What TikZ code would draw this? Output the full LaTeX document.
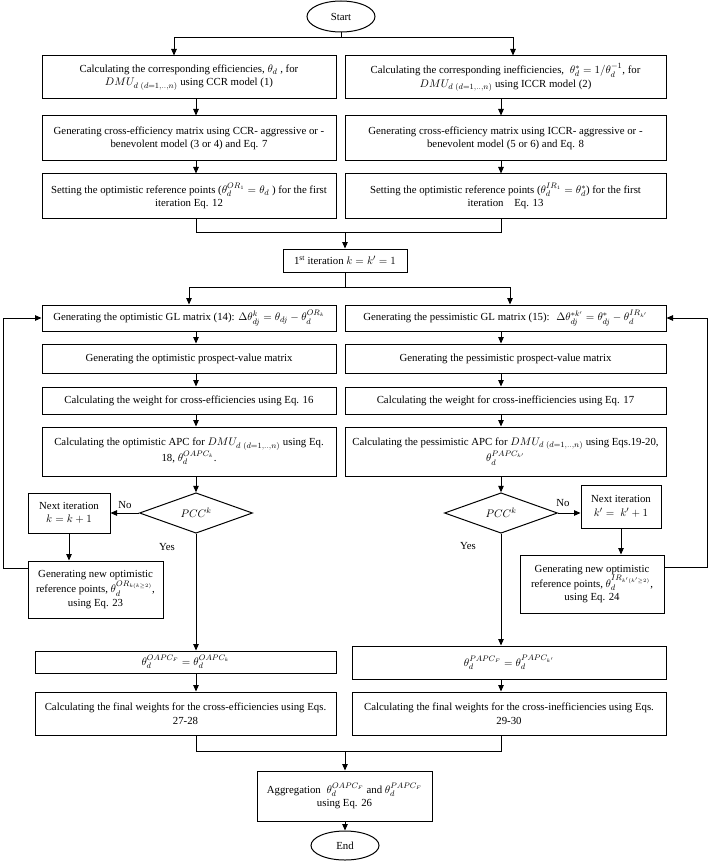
\documentclass[tikz,border=0pt]{standalone}
\usepackage{fontspec}
\setmainfont{Liberation Serif}
\usepackage{amsmath}
\usetikzlibrary{arrows.meta,shapes.geometric,calc}
\begin{document}
\begin{tikzpicture}[x=1pt,y=-1pt,
  box/.style={draw,line width=1pt,align=center,inner sep=2pt,font=\fontsize{10.8}{13.5}\selectfont},
  lbox/.style={box,minimum width=294pt},
  rbox/.style={box,minimum width=321pt},
  oval/.style={draw,ellipse,line width=1pt,inner sep=0pt,font=\fontsize{10.8}{12}\selectfont},
  dia/.style={draw,diamond,line width=1pt,inner sep=0pt,minimum width=113pt,minimum height=38pt,font=\fontsize{10.8}{12}\selectfont},
  lab/.style={font=\fontsize{10.8}{12}\selectfont,inner sep=1pt},
  ln/.style={line width=1pt},
  arr/.style={line width=1pt,-{Triangle[length=6.5pt,width=5.5pt]}}]
\useasboundingbox (0,0) rectangle (709,861);
\coordinate (lx) at (196,0);
\coordinate (rx) at (501,0);
\coordinate (sl) at (174,0);
\coordinate (sr) at (513,0);
\coordinate (sl2) at (189,0);
\coordinate (sr2) at (510,0);
\coordinate (mx) at (345,0);
% nodes
\node[oval,minimum width=68pt,minimum height=31pt] (start) at (341,16.5) {Start};
\node[lbox,minimum height=43pt] (a1) at (189,77.5) {Calculating the corresponding efficiencies, $\theta_d$ , for\\ $DMU_{d\ (d=1,..,n)}$ using CCR model (1)};
\node[rbox,minimum height=43pt] (b1) at (505.5,77.5) {Calculating the corresponding inefficiencies,\; $\theta^*_d=1/\theta_d^{-1}$, for\\ $DMU_{d\ (d=1,..,n)}$ using ICCR model (2)};
\node[lbox,minimum height=45pt] (a2) at (189,138.5) {Generating cross-efficiency matrix using CCR- aggressive or -\\ benevolent model (3 or 4) and Eq. 7};
\node[rbox,minimum height=45pt] (b2) at (505.5,138.5) {Generating cross-efficiency matrix using ICCR- aggressive or -\\ benevolent model (5 or 6) and Eq. 8};
\node[lbox,minimum height=44pt] (a3) at (189,196) {Setting the optimistic reference points ($\theta_d^{OR_1}=\theta_d$ ) for the first\\ iteration Eq. 12};
\node[rbox,minimum height=44pt] (b3) at (505.5,196) {Setting the optimistic reference points ($\theta_d^{IR_1}=\theta^*_d$) for the first\\ iteration\quad Eq. 13};
\node[box,minimum width=124pt,minimum height=23pt] (it) at (345,260.5) {1$^{\text{st}}$ iteration $k=k'=1$};
\node[lbox,minimum height=26pt] (a4) at (189,318) {Generating the optimistic GL matrix (14): $\Delta\theta^k_{dj}=\theta_{dj}-\theta_d^{OR_k}$};
\node[rbox,minimum height=26pt] (b4) at (505.5,318) {Generating the pessimistic GL matrix (15):\; $\Delta\theta^{*k'}_{dj}=\theta^*_{dj}-\theta_d^{IR_{k'}}$};
\node[lbox,minimum height=29pt] (a5) at (189,358.5) {Generating the optimistic prospect-value matrix};
\node[rbox,minimum height=29pt] (b5) at (505.5,358.5) {Generating the pessimistic prospect-value matrix};
\node[lbox,minimum height=27pt] (a6) at (189,400.5) {Calculating the weight for cross-efficiencies using Eq. 16};
\node[rbox,minimum height=27pt] (b6) at (505.5,400.5) {Calculating the weight for cross-inefficiencies using Eq. 17};
\node[lbox,minimum height=49pt] (a7) at (189,451.5) {Calculating the optimistic APC for $DMU_{d\ (d=1,..,n)}$ using Eq.\\ 18, $\theta_d^{OAPC_k}$.};
\node[rbox,minimum height=49pt] (b7) at (505.5,451.5) {Calculating the pessimistic APC for $DMU_{d\ (d=1,..,n)}$ using Eqs.19-20,\\ $\theta_d^{PAPC_{k'}}$};
\node[dia] (da) at (196,513) {$PCC^k$};
\node[dia] (db) at (501,513) {$PCC^k$};
\node[box,minimum width=82pt,minimum height=40pt] (na) at (69,513) {Next iteration\\ $k=k+1$};
\node[box,minimum width=80pt,minimum height=43pt] (nb) at (621,506.5) {Next iteration\\ $k'=\;k'+1$};
\node[box,minimum width=135pt,minimum height=57pt] (ga) at (95.5,589.5) {Generating new optimistic\\ reference points, $\theta_d^{OR_{k(k\ge2)}}$,\\ using Eq. 23};
\node[box,minimum width=144pt,minimum height=58pt] (gb) at (592,584) {Generating new optimistic\\ reference points, $\theta_d^{IR_{k'(k'\ge2)}}$,\\ using Eq. 24};
\node[box,minimum width=301pt,minimum height=22pt] (a8) at (185.5,662) {$\theta_d^{OAPC_F}=\theta_d^{OAPC_k}$};
\node[box,minimum width=314pt,minimum height=33pt] (b8) at (509,662.5) {$\theta_d^{PAPC_F}=\theta_d^{PAPC_{k'}}$};
\node[box,minimum width=301pt,minimum height=43pt] (a9) at (185.5,713.5) {Calculating the final weights for the cross-efficiencies using Eqs.\\ 27-28};
\node[box,minimum width=314pt,minimum height=43pt] (b9) at (509,713.5) {Calculating the final weights for the cross-inefficiencies using Eqs.\\ 29-30};
\node[box,minimum width=175pt,minimum height=50pt] (ag) at (344.5,796) {Aggregation\; $\theta_d^{OAPC_F}$ and $\theta_d^{PAPC_F}$\\ using Eq. 26};
\node[oval,minimum width=68pt,minimum height=29pt] (end) at (345,845.5) {End};
\node[lab] (noa) at (125,505) {No};
\node[lab] (nob) at (563,503) {No};
\node[lab] (yesa) at (167,547) {Yes};
\node[lab] (yesb) at (468,546) {Yes};
% connectors
\draw[ln] (start.south) -- ++(0,5) coordinate (s1);
\draw[arr] (s1) -| (a1.north -| sl);
\draw[arr] (s1) -| (b1.north -| sr);
\draw[arr] (a1.south -| lx) -- (a2.north -| lx);
\draw[arr] (b1.south -| rx) -- (b2.north -| rx);
\draw[arr] (a2.south -| lx) -- (a3.north -| lx);
\draw[arr] (b2.south -| rx) -- (b3.north -| rx);
\draw[ln] (a3.south -| lx) -- ++(0,14) coordinate (m1) -| (b3.south -| rx);
\draw[arr] (m1 -| mx) -- (it.north -| mx);
\draw[ln] (it.south -| mx) -- ++(0,15) coordinate (s2);
\draw[arr] (s2) -| (a4.north -| sl2);
\draw[arr] (s2) -| (b4.north -| sr2);
\draw[arr] (a4.south -| lx) -- (a5.north -| lx);
\draw[arr] (b4.south -| rx) -- (b5.north -| rx);
\draw[arr] (a5.south -| lx) -- (a6.north -| lx);
\draw[arr] (b5.south -| rx) -- (b6.north -| rx);
\draw[arr] (a6.south -| lx) -- (a7.north -| lx);
\draw[arr] (b6.south -| rx) -- (b7.north -| rx);
\draw[arr] (a7.south -| lx) -- (da.north);
\draw[arr] (b7.south -| rx) -- (db.north);
\draw[arr] (da.west) -- (na.east |- da.west);
\draw[arr] (db.east) -- (nb.west |- db.east);
\draw[arr] (na.south) -- (na.south |- ga.north);
\draw[arr] (nb.south) -- (nb.south |- gb.north);
\draw[arr] (ga.west |- 0,568) -- (3,568) |- (a4.west);
\draw[arr] (gb.east |- 0,567) -- (707,567) |- (b4.east);
\draw[arr] (da.south) -- (da.south |- a8.north);
\draw[arr] (db.south) -- (db.south |- b8.north);
\draw[arr] (a8.south -| lx) -- (a9.north -| lx);
\draw[arr] (b8.south -| rx) -- (b9.north -| rx);
\draw[ln] (a9.south -| lx) -- ++(0,16) coordinate (m2) -| (b9.south -| rx);
\draw[arr] (m2 -| mx) -- (ag.north -| mx);
\draw[arr] (ag.south -| mx) -- (end.north -| mx);
\end{tikzpicture}
\end{document}
